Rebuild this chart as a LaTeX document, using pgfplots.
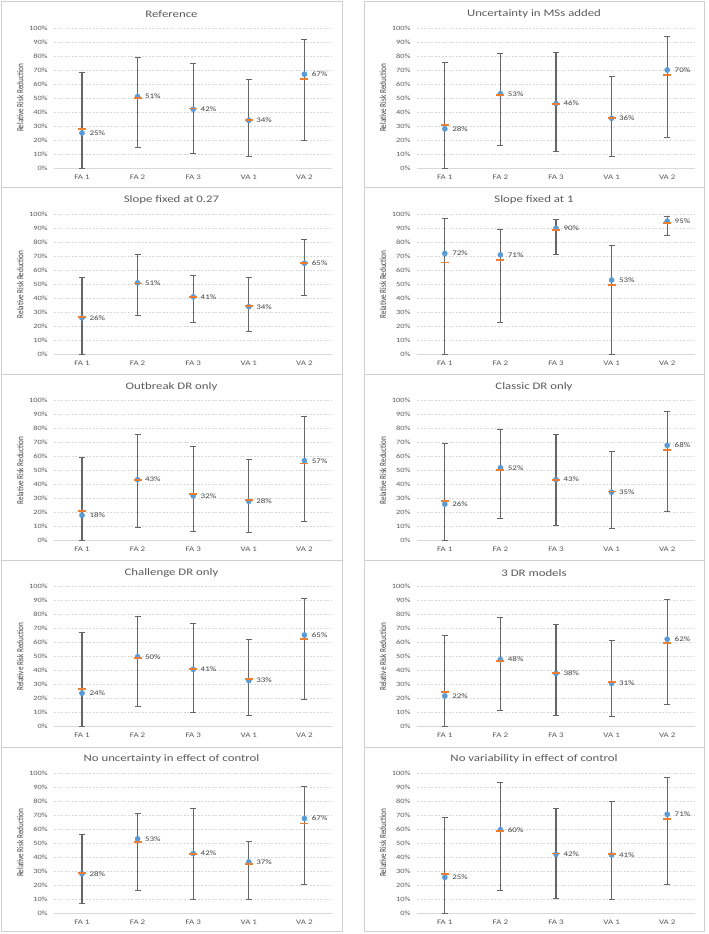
\documentclass[border=0pt]{standalone}
\usepackage{fontspec}
\setmainfont{Carlito}[FakeStretch=1.28]
\newfontfamily\ylfont{Carlito}
\usepackage{graphicx}
\usepackage{pgfplots}
\usepackage{pgfplotstable}
\pgfplotsset{compat=1.18}

\definecolor{meanblue}{HTML}{5B9BD5}
\definecolor{medorange}{HTML}{ED7D31}
\definecolor{bargrey}{HTML}{666666}
\definecolor{txtgrey}{HTML}{595959}
\definecolor{lblgrey}{HTML}{404040}
\definecolor{gridgrey}{HTML}{D9D9D9}
\definecolor{boxgrey}{HTML}{D0D0D0}

% columns: x mean median low high label
\pgfplotstableread{
x mean med low high lab
0 25 28 0 68 25
1 51 50 15 79 51
2 42 42.5 10.5 75 42
3 34 34.5 8.5 63 34
4 67 63.5 20 92 67
}\tabA
\pgfplotstableread{
x mean med low high lab
0 28 31 0 75.5 28
1 53 52 16 81.5 53
2 46 46 11.5 82.5 46
3 35.5 36 8.5 65.5 36
4 70 66.5 22 94 70
}\tabB
\pgfplotstableread{
x mean med low high lab
0 26 26.5 0 55 26
1 51 50.5 28 71 51
2 41 41 23 56 41
3 34 34.5 16 55 34
4 65 65 42 82 65
}\tabC
\pgfplotstableread{
x mean med low high lab
0 72 65.5 0 97 72
1 71 67.5 23 89 71
2 90 89 71.5 96.5 90
3 53 49.5 0 78 53
4 95 94 84.5 98.5 95
}\tabD
\pgfplotstableread{
x mean med low high lab
0 18 21 0 59.5 18
1 43.5 43 9.5 75.5 43
2 32 33.5 6.5 67.5 32
3 28 29 5.5 58 28
4 57 55 13.5 88.5 57
}\tabE
\pgfplotstableread{
x mean med low high lab
0 26 28.5 0 69.5 26
1 52 50.5 15.5 79.5 52
2 43.5 43.5 10.5 76 43
3 34.5 35 8.5 63.5 35
4 68 64.5 21 92 68
}\tabF
\pgfplotstableread{
x mean med low high lab
0 24 27 0 67 24
1 50 49 14.5 78.5 50
2 41 41.5 10 74 41
3 33 34 8 62.5 33
4 65.5 62.5 19.5 91.5 65
}\tabG
\pgfplotstableread{
x mean med low high lab
0 22 25 0 65.5 22
1 48 47 11.5 78 48
2 38 38.5 8 73 38
3 31 32 7 61.5 31
4 62.5 60 16 91 62
}\tabH
\pgfplotstableread{
x mean med low high lab
0 28 28.5 6.5 56 28
1 53 50.5 16 71 53
2 42.5 42 10 75 42
3 36.5 35 10 51 37
4 67.5 64 20.5 90.5 67
}\tabI
\pgfplotstableread{
x mean med low high lab
0 25.5 28 0 68.5 25
1 59.5 58.5 16 93 60
2 42 42.5 10.5 75 42
3 41.5 42 9.5 79.5 41
4 70.5 67 20.5 96.5 71
}\tabJ

\pgfplotsset{
  panel/.style={
    scale only axis, width=278pt, height=140pt,
    xmin=-0.5, xmax=4.5, ymin=0, ymax=100,
    clip=false,
    xtick={0,1,2,3,4},
    xticklabels={FA 1,FA 2,FA 3,VA 1,VA 2},
    ytick={0,10,20,30,40,50,60,70,80,90,100},
    yticklabels={0\%,10\%,20\%,30\%,40\%,50\%,60\%,70\%,80\%,90\%,100\%},
    major tick length=0pt,
    axis line style={draw=none},
    ymajorgrids,
    major grid style={gridgrey, line width=0.6pt, dash pattern=on 2pt off 1.5pt},
    extra y ticks={0},
    extra y tick labels={},
    extra y tick style={grid=major, major grid style={solid, gridgrey, line width=0.8pt}},
    yticklabel style={font=\fontsize{6.5}{7}\selectfont, text=txtgrey, xshift=-3pt},
    xticklabel style={font=\fontsize{7}{8}\selectfont, text=txtgrey, yshift=-3pt},
    every axis y label/.style={at={(axis description cs:-0.1223,0.5)}, anchor=center, rotate=90},
    ylabel={\ylfont\fontsize{7.2}{8}\selectfont\color{lblgrey}\scalebox{1}[1.28]{Relative Risk Reduction}},
  }
}

\newcommand{\panel}[2]{%
  \begin{axis}[panel, at={#1}, anchor=south west]
    \addplot[only marks, mark=*, mark size=2.6pt,
      mark options={fill=meanblue, draw=meanblue},
      point meta=explicit symbolic,
      nodes near coords={\pgfplotspointmeta\%},
      every node near coord/.style={anchor=west, xshift=4pt,
        font=\fontsize{7}{8}\selectfont, text=lblgrey}]
      table[x=x, y=mean, meta=lab] {#2};
    \addplot[draw=none, mark=none, forget plot,
      error bars/.cd, y dir=both, y explicit,
      error bar style={draw=bargrey, line width=1.2pt},
      error mark options={rotate=90, draw=bargrey, line width=1pt, mark size=3pt}]
      table[x=x, y=mean,
        y error plus expr=\thisrow{high}-\thisrow{mean},
        y error minus expr=\thisrow{mean}-\thisrow{low}] {#2};
    \addplot[only marks, mark=-, mark size=4pt,
      mark options={draw=medorange, line width=1.8pt}]
      table[x=x, y=med] {#2};
  \end{axis}}

\begin{document}
\begin{tikzpicture}
\useasboundingbox (0pt,0pt) rectangle (709pt,-934pt);
% panel frames
\foreach \t/\b in {1/187,187/374,374/560,560/747,747/931}{
  \draw[boxgrey, line width=0.8pt] (1pt,-\t pt) rectangle (342pt,-\b pt);
  \draw[boxgrey, line width=0.8pt] (364pt,-\t pt) rectangle (704pt,-\b pt);
}
\panel{(54.2pt,-168pt)}{\tabA}
\panel{(417pt,-168pt)}{\tabB}
\panel{(54.2pt,-354.25pt)}{\tabC}
\panel{(417pt,-354.25pt)}{\tabD}
\panel{(54.2pt,-540.5pt)}{\tabE}
\panel{(417pt,-540.5pt)}{\tabF}
\panel{(54.2pt,-726.75pt)}{\tabG}
\panel{(417pt,-726.75pt)}{\tabH}
\panel{(54.2pt,-913pt)}{\tabI}
\panel{(417pt,-913pt)}{\tabJ}
% titles
\tikzset{ttl/.style={font=\fontsize{10}{12}\selectfont, text=txtgrey, anchor=center}}
\node[ttl] at (171.5pt,-14pt) {Reference};
\node[ttl] at (534pt,-14pt) {Uncertainty in MSs added};
\node[ttl] at (171.5pt,-200.25pt) {Slope fixed at 0.27};
\node[ttl] at (534pt,-200.25pt) {Slope fixed at 1};
\node[ttl] at (171.5pt,-386.5pt) {Outbreak DR only};
\node[ttl] at (534pt,-386.5pt) {Classic DR only};
\node[ttl] at (171.5pt,-572.75pt) {Challenge DR only};
\node[ttl] at (534pt,-572.75pt) {3 DR models};
\node[ttl] at (171.5pt,-759pt) {No uncertainty in effect of control};
\node[ttl] at (534pt,-759pt) {No variability in effect of control};
\end{tikzpicture}
\end{document}
